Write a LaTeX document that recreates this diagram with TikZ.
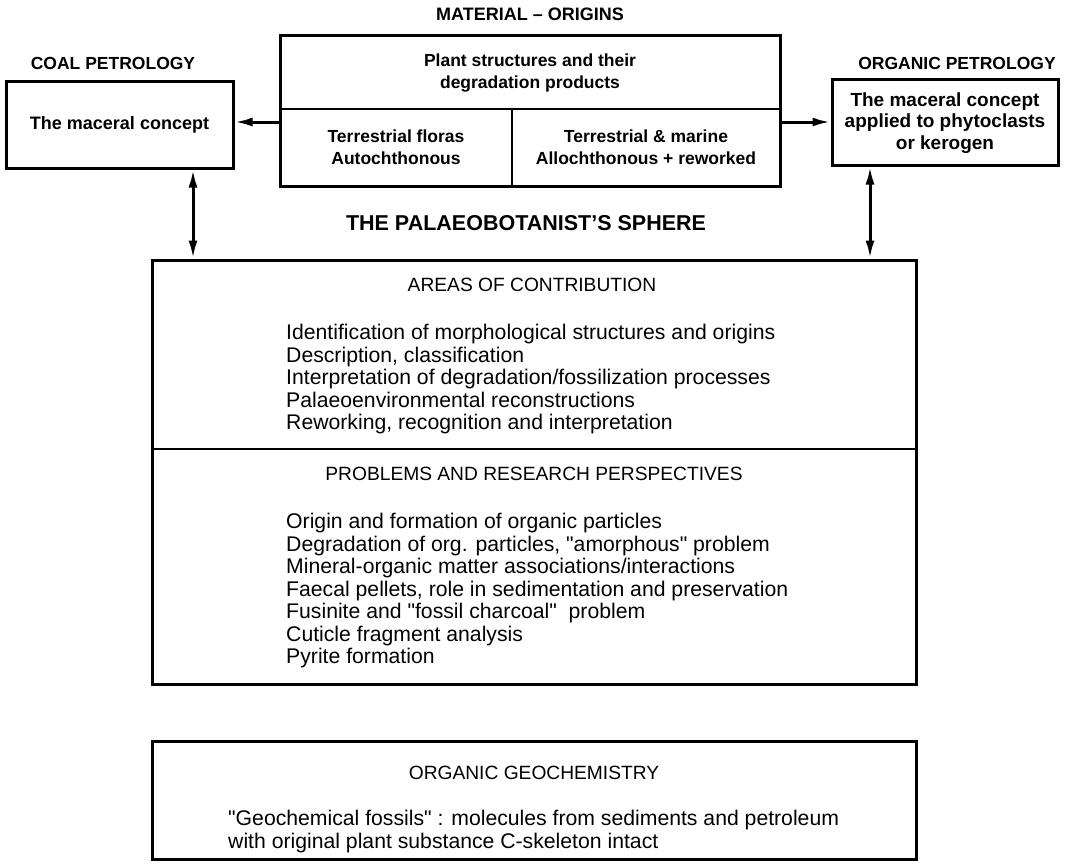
\documentclass[tikz,border=0pt]{standalone}
\usepackage{fontspec}
\setmainfont{Liberation Sans}[Ligatures=TeXOff]
\usetikzlibrary{arrows.meta}
\begin{document}
\begin{tikzpicture}[x=1pt,y=-1pt,
  box/.style={draw,line width=3pt,rectangle,inner sep=0pt},
  dv/.style={line width=2.2pt},
  ttl/.style={font=\fontsize{17.5}{20}\selectfont\bfseries,inner sep=0pt},
  btxt/.style={font=\fontsize{17.5}{22}\selectfont\bfseries,align=center,inner sep=0pt},
  ltxt/.style={font=\fontsize{21.2}{22.5}\selectfont,align=left,inner sep=0pt,anchor=north west},
  hd/.style={font=\fontsize{19.2}{20}\selectfont,inner sep=0pt},
  arr/.style={line width=3pt,-{Latex[length=18pt,width=9pt]}},
  darr/.style={line width=3pt,{Latex[length=18pt,width=9pt]}-{Latex[length=18pt,width=9pt]}}]
\useasboundingbox (0,0) rectangle (1067,863);
% boxes
\node[box,minimum width=500pt,minimum height=151pt] (mat) at (530,110.5) {};
\node[box,minimum width=227pt,minimum height=87pt] (coal) at (119.5,124.5) {};
\node[box,minimum width=226pt,minimum height=86pt] (org) at (945,122) {};
\node[box,minimum width=764pt,minimum height=424pt] (main) at (534,472) {};
\node[box,minimum width=764pt,minimum height=118pt] (geo) at (534,800) {};
% helper coordinates
\coordinate (hdiv) at (0,109);
\coordinate (vdiv) at (512,0);
\coordinate (mdiv) at (0,449);
\coordinate (ylev) at (0,122);
\coordinate (ax1) at (193,0);
\coordinate (ax2) at (870,0);
% dividers
\draw[dv] (mat.west |- hdiv) -- (mat.east |- hdiv);
\draw[dv] (vdiv |- hdiv) -- (vdiv |- mat.south);
\draw[dv] (main.west |- mdiv) -- (main.east |- mdiv);
% connectors
\draw[arr] (mat.west |- ylev) -- (coal.east |- ylev);
\draw[arr] (mat.east |- ylev) -- (org.west |- ylev);
\draw[darr] (coal.south -| ax1) -- (main.north -| ax1);
\draw[darr] (org.south -| ax2) -- (main.north -| ax2);
% titles
\node[ttl,font=\fontsize{18}{20}\selectfont\bfseries] (tmat) at (530,14) {MATERIAL – ORIGINS};
\node[ttl] (tcoal) at (113,63) {COAL PETROLOGY};
\node[ttl] (torg) at (957,63) {ORGANIC PETROLOGY};
\node[ttl,font=\fontsize{21.5}{24}\selectfont\bfseries] (tsph) at (526,223) {THE PALAEOBOTANIST’S SPHERE};
% box texts
\node[btxt] (plant) at (530,73) {Plant structures and their\\degradation products};
\node[btxt] (terr) at (396,147) {Terrestrial floras\\Autochthonous};
\node[btxt] (term) at (646,147) {Terrestrial \& marine\\Allochthonous + reworked};
\node[btxt,font=\fontsize{18}{22}\selectfont\bfseries] (coalt) at (coal) {The maceral concept};
\node[btxt,font=\fontsize{19}{21.5}\selectfont\bfseries] (orgt) at (945,123) {The maceral concept\\applied to phytoclasts\\or kerogen};
% main box
\node[hd] (areas) at (532,285) {AREAS OF CONTRIBUTION};
\node[ltxt] (alist) at (286,324) {Identification of morphological structures and origins\\
Description, classification\\
Interpretation of degradation/fossilization processes\\
Palaeoenvironmental reconstructions\\
Reworking, recognition and interpretation};
\node[hd] (probs) at (534,474) {PROBLEMS AND RESEARCH PERSPECTIVES};
\node[ltxt] (plist) at (286,513) {Origin and formation of organic particles\\
Degradation of org. particles, "amorphous" problem\\
Mineral-organic matter associations/interactions\\
Faecal pellets, role in sedimentation and preservation\\
Fusinite and "fossil charcoal"\ \ problem\\
Cuticle fragment analysis\\
Pyrite formation};
% geochemistry
\node[hd] (geoh) at (534,773) {ORGANIC GEOCHEMISTRY};
\node[ltxt] (geol) at (228,810) {"Geochemical fossils" : molecules from sediments and petroleum\\
with original plant substance C-skeleton intact};
\end{tikzpicture}
\end{document}
